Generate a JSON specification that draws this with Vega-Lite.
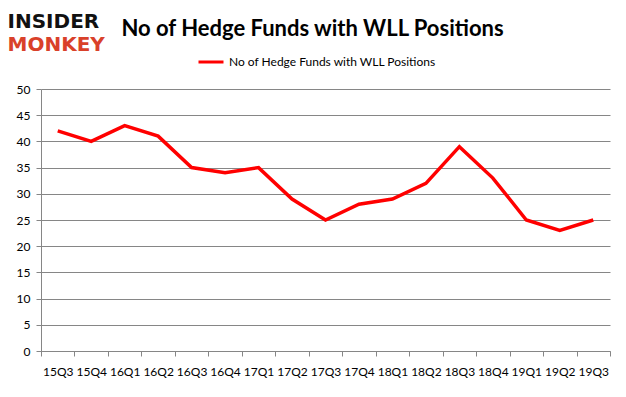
{
  "$schema": "https://vega.github.io/schema/vega-lite/v6.json",
  "width": 569,
  "height": 262,
  "autosize": {"type": "none"},
  "padding": {"left": 41, "top": 89, "right": 16, "bottom": 46},
  "background": "white",
  "title": {
    "text": "No of Hedge Funds with WLL Positions",
    "font": "Lato",
    "fontSize": 22,
    "fontWeight": "bold",
    "color": "#000000",
    "anchor": "middle",
    "dx": -13,
    "offset": -30
  },
  "data": {
    "values": [
      {"q": "15Q3", "n": 42, "s": "No of Hedge Funds with WLL Positions"},
      {"q": "15Q4", "n": 40, "s": "No of Hedge Funds with WLL Positions"},
      {"q": "16Q1", "n": 43, "s": "No of Hedge Funds with WLL Positions"},
      {"q": "16Q2", "n": 41, "s": "No of Hedge Funds with WLL Positions"},
      {"q": "16Q3", "n": 35, "s": "No of Hedge Funds with WLL Positions"},
      {"q": "16Q4", "n": 34, "s": "No of Hedge Funds with WLL Positions"},
      {"q": "17Q1", "n": 35, "s": "No of Hedge Funds with WLL Positions"},
      {"q": "17Q2", "n": 29, "s": "No of Hedge Funds with WLL Positions"},
      {"q": "17Q3", "n": 25, "s": "No of Hedge Funds with WLL Positions"},
      {"q": "17Q4", "n": 28, "s": "No of Hedge Funds with WLL Positions"},
      {"q": "18Q1", "n": 29, "s": "No of Hedge Funds with WLL Positions"},
      {"q": "18Q2", "n": 32, "s": "No of Hedge Funds with WLL Positions"},
      {"q": "18Q3", "n": 39, "s": "No of Hedge Funds with WLL Positions"},
      {"q": "18Q4", "n": 33, "s": "No of Hedge Funds with WLL Positions"},
      {"q": "19Q1", "n": 25, "s": "No of Hedge Funds with WLL Positions"},
      {"q": "19Q2", "n": 23, "s": "No of Hedge Funds with WLL Positions"},
      {"q": "19Q3", "n": 25, "s": "No of Hedge Funds with WLL Positions"}
    ]
  },
  "mark": {"type": "line", "strokeWidth": 3.5, "strokeJoin": "miter"},
  "encoding": {
    "x": {
      "field": "q",
      "type": "ordinal",
      "sort": null,
      "scale": {"type": "band", "paddingInner": 0, "paddingOuter": 0},
      "axis": {
        "title": "MONKEY",
        "titleFont": "DejaVu Sans",
        "titleFontSize": 20,
        "titleFontWeight": "bold",
        "titleColor": "#d9412a",
        "titleAnchor": "start",
        "titleAlign": "left",
        "titleBaseline": "alphabetic",
        "titleX": -34,
        "titleY": -301,
        "labelAngle": 0,
        "labelFont": "Lato",
        "labelFontSize": 12,
        "labelColor": "#000000",
        "labelPadding": 10,
        "tickBand": "extent",
        "tickSize": 5,
        "tickColor": "#868686",
        "domainColor": "#868686",
        "grid": false
      }
    },
    "y": {
      "field": "n",
      "type": "quantitative",
      "scale": {"domain": [0, 50], "nice": false},
      "axis": {
        "values": [0, 5, 10, 15, 20, 25, 30, 35, 40, 45, 50],
        "title": "INSIDER",
        "titleFont": "DejaVu Sans",
        "titleFontSize": 20,
        "titleFontWeight": "bold",
        "titleColor": "#111111",
        "titleAngle": 0,
        "titleAlign": "left",
        "titleBaseline": "alphabetic",
        "titleX": -34,
        "titleY": -62,
        "labelFont": "Lato",
        "labelFontSize": 12,
        "labelColor": "#000000",
        "labelPadding": 6,
        "tickSize": 5,
        "tickColor": "#868686",
        "domainColor": "#868686",
        "gridColor": "#868686",
        "gridOpacity": 1
      }
    },
    "color": {
      "field": "s",
      "type": "nominal",
      "scale": {"range": ["#ff0000"]},
      "legend": {
        "title": null,
        "orient": "none",
        "legendX": 156,
        "legendY": -41,
        "symbolType": "stroke",
        "symbolSize": 625,
        "symbolStrokeWidth": 3,
        "labelFont": "Lato",
        "labelFontSize": 12,
        "labelColor": "#000000",
        "labelOffset": 4,
        "labelLimit": 400
      }
    }
  },
  "config": {
    "view": {"stroke": null},
    "axis": {"domainWidth": 1, "gridWidth": 1}
  }
}
